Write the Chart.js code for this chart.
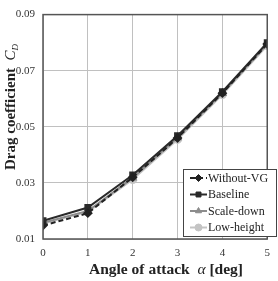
<!DOCTYPE html>
<html>
<head>
<meta charset="utf-8">
<script src="https://cdn.jsdelivr.net/npm/chart.js@4"></script>
<style>
  html, body { margin: 0; padding: 0; background: #fff; }
  #wrap { width: 278px; height: 281px; }
</style>
</head>
<body>
<div id="wrap"><canvas id="cdChart" width="278" height="281"></canvas></div>
<script>
const angles = [0, 1, 2, 3, 4, 5];
const withoutVG = [0.0148, 0.0192, 0.0320, 0.0460, 0.0620, 0.0795];
const baseline = [0.0165, 0.0212, 0.0328, 0.0468, 0.0625, 0.0800];
const scaleDown = [0.0158, 0.0200, 0.0318, 0.0462, 0.0620, 0.0795];
const lowHeight = [0.0155, 0.0197, 0.0312, 0.0455, 0.0615, 0.0790];
const yTicks = [0.01, 0.03, 0.05, 0.07, 0.09];

const serif = "'Liberation Serif', 'DejaVu Serif', serif";

function pts(arr) {
  return arr.map((v, i) => ({ x: angles[i], y: v }));
}

// write a row of [text, font, dy] pieces starting at x
function pieces(c, parts, x, y) {
  parts.forEach(([t, f, dy]) => {
    c.font = f;
    c.fillText(t, x, y + (dy || 0));
    x += c.measureText(t).width;
  });
}
function piecesWidth(c, parts) {
  let w = 0;
  parts.forEach(([t, f]) => { c.font = f; w += c.measureText(t).width; });
  return w;
}

// frame, axis titles and the legend box drawn by hand
const decor = {
  id: "decor",
  afterDraw(chart) {
    const c = chart.ctx;
    const a = chart.chartArea;
    c.save();
    c.strokeStyle = "#555";
    c.lineWidth = 1.5;
    c.strokeRect(a.left, a.top, a.right - a.left, a.bottom - a.top);

    c.fillStyle = "#222";
    c.textAlign = "left";
    c.textBaseline = "alphabetic";

    const xt = [
      ["Angle of attack  ", "bold 15.5px " + serif],
      ["\u03b1", "italic 15.5px " + serif],
      [" [deg]", "bold 15.5px " + serif]
    ];
    pieces(c, xt, 166 - piecesWidth(c, xt) / 2, 274);

    const yt = [
      ["Drag coefficient  ", "bold 15px " + serif],
      ["C", "italic 15px " + serif],
      ["D", "italic 9px " + serif, 3]
    ];
    c.translate(15, 107);
    c.rotate(-Math.PI / 2);
    pieces(c, yt, -piecesWidth(c, yt) / 2, 0);
    c.restore();

    // legend
    c.save();
    const bx = 183, by = 169, bw = 93, bh = 67;
    c.fillStyle = "#fff";
    c.fillRect(bx, by, bw, bh);
    c.strokeStyle = "#444";
    c.lineWidth = 1;
    c.strokeRect(bx + 0.5, by + 0.5, bw, bh);
    chart.data.datasets.forEach((ds, i) => {
      const ly = by + 9 + i * 16.5;
      c.strokeStyle = ds.borderColor;
      c.lineWidth = ds.borderWidth;
      c.setLineDash(ds.borderDash || []);
      c.beginPath();
      c.moveTo(bx + 7, ly);
      c.lineTo(bx + 24, ly);
      c.stroke();
      c.setLineDash([]);
      c.fillStyle = ds.backgroundColor;
      c.strokeStyle = ds.borderColor;
      c.lineWidth = 1;
      Chart.helpers.drawPoint(c, {
        pointStyle: ds.pointStyle,
        radius: ds.pointRadius,
        borderWidth: 1,
        rotation: 0
      }, bx + 15.5, ly);
      c.fillStyle = "#222";
      c.font = "12px " + serif;
      c.textBaseline = "middle";
      c.fillText(ds.label, bx + 25, ly + 0.5);
    });
    c.restore();
  }
};

const ctx = document.getElementById("cdChart");

const chart = new Chart(ctx, {
  type: "line",
  data: {
    datasets: [
      {
        label: "Without-VG",
        data: pts(withoutVG),
        borderColor: "#222",
        backgroundColor: "#222",
        borderWidth: 2,
        borderDash: [5, 3],
        pointStyle: "rectRot",
        pointRadius: 3.5
      },
      {
        label: "Baseline",
        data: pts(baseline),
        borderColor: "#2a2a2a",
        backgroundColor: "#2a2a2a",
        borderWidth: 2,
        pointStyle: "rect",
        pointRadius: 3.5
      },
      {
        label: "Scale-down",
        data: pts(scaleDown),
        borderColor: "#8c8c8c",
        backgroundColor: "#8c8c8c",
        borderWidth: 2,
        pointStyle: "triangle",
        pointRadius: 3.5
      },
      {
        label: "Low-height",
        data: pts(lowHeight),
        borderColor: "#c4c4c4",
        backgroundColor: "#c4c4c4",
        borderWidth: 2,
        pointStyle: "circle",
        pointRadius: 3.5
      }
    ]
  },
  options: {
    responsive: false,
    animation: false,
    layout: { padding: { top: 11, right: 3, left: 0, bottom: 0 } },
    plugins: {
      legend: { display: false },
      tooltip: { enabled: false }
    },
    scales: {
      x: {
        type: "linear",
        min: 0,
        max: 5,
        afterFit: (s) => { s.height = 42; },
        afterBuildTicks: (s) => { s.ticks = angles.map((v) => ({ value: v })); },
        grid: { color: "#c0c0c0", lineWidth: 1, drawTicks: false },
        border: { display: false },
        ticks: {
          color: "#333",
          padding: 8,
          font: { family: serif, size: 11 }
        }
      },
      y: {
        min: 0.01,
        max: 0.09,
        afterFit: (s) => { s.width = 43; },
        afterBuildTicks: (s) => { s.ticks = yTicks.map((v) => ({ value: v })); },
        grid: { color: "#c0c0c0", lineWidth: 1, drawTicks: false },
        border: { display: false },
        ticks: {
          color: "#333",
          padding: 8,
          font: { family: serif, size: 11 },
          callback: (v) => v.toFixed(2)
        }
      }
    }
  },
  plugins: [decor]
});
</script>
</body>
</html>
